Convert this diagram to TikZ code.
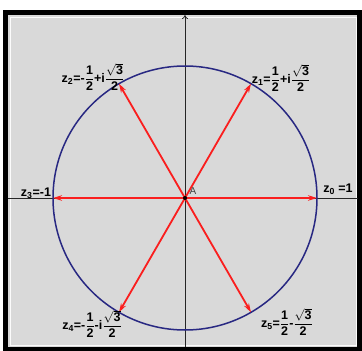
\documentclass[tikz,border=0pt]{standalone}
\usepackage{amsmath}
\usepackage{fontspec}
\setmainfont{Liberation Sans}
\usetikzlibrary{arrows.meta}
\definecolor{bgray}{RGB}{217,217,217}
\definecolor{navy}{RGB}{40,40,130}
\definecolor{rarrow}{RGB}{250,30,30}
\newcommand\myfr[2]{$\dfrac{\text{#1}}{\text{#2}}$}
\newcommand\mysub[1]{$_{\text{#1}}$}
\newcommand\myrt{$\dfrac{\sqrt{\text{3}}}{\text{2}}$}
\tikzset{
  lab/.style={font=\fontsize{12.5}{13}\selectfont\bfseries, inner sep=0pt},
  vec/.style={draw=rarrow, line width=1.8pt, -{Stealth[length=9pt,width=5.5pt]}},
  axis/.style={draw=black!85, line width=0.8pt},
}
\begin{document}
\begin{tikzpicture}[x=1pt,y=-1pt]
\useasboundingbox (0,0) rectangle (362,351);
\fill[white] (0,0) rectangle (362,351);
\filldraw[fill=bgray, draw=black, line width=5pt] (5,12) rectangle (359.5,349);
\draw[white!90!bgray, line width=1pt] (10,17) rectangle (356,345);
% axes
\coordinate (O) at (185,198);
\coordinate (ytop) at (185,15);
\coordinate (ybot) at (185,347);
\coordinate (xl) at (8,198);
\coordinate (xr) at (358,198);
\draw[axis] (xl) -- (xr);
\draw[axis,-{To[length=4pt,width=6pt]}] (ybot) -- (ytop);
% circle
\draw[navy, line width=1.5pt] (O) circle (132pt);
% points
\path (O) ++(0:132) coordinate (p0);
\path (O) ++(-60:132) coordinate (p1);
\path (O) ++(-120:132) coordinate (p2);
\path (O) ++(180:132) coordinate (p3);
\path (O) ++(120:132) coordinate (p4);
\path (O) ++(60:132) coordinate (p5);
\foreach \p in {p0,p1,p2,p3,p4,p5} \draw[vec] (O) -- (\p);
\fill[black] (O) circle (2pt);
\node[font=\fontsize{10}{10}\selectfont, text=black!75, inner sep=0pt] (A) at (193,191) {A};
% labels
\node[lab] (l0) at (338,189) {z\mysub{0} =1};
\node[lab] (l1) at (281,78) {z\mysub{1}=\myfr{1}{2}+i\myrt};
\node[lab] (l2) at (93,77) {z\mysub{2}=-\myfr{1}{2}+i\myrt};
\node[lab] (l3) at (36,193) {z\mysub{3}=-1};
\node[lab] (l4) at (92,324) {z\mysub{4}=-\myfr{1}{2}-i\myrt};
\node[lab] (l5) at (287,322) {z\mysub{5}=\myfr{1}{2}-\myrt};
\end{tikzpicture}
\end{document}
